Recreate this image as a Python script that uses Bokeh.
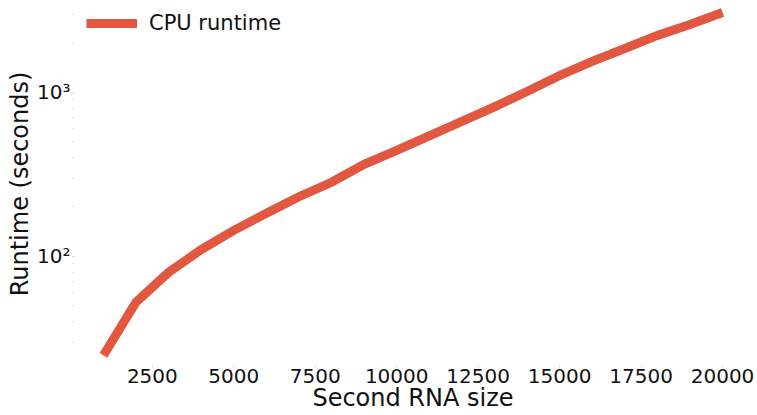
from bokeh.plotting import figure
from bokeh.models import Range1d, FixedTicker, Legend, LegendItem
from bokeh.embed import file_html
from bokeh.resources import INLINE

# Data
rna_size = [1000, 2000, 3000, 4000, 5000, 6000, 7000, 8000, 9000, 10000,
            11000, 12000, 13000, 14000, 15000, 16000, 17000, 18000, 19000, 20000]
cpu_runtime = [24.9, 52.5, 79.8, 110, 144, 183, 231, 283, 364, 443,
               543, 666, 817, 1014, 1269, 1546, 1854, 2228, 2600, 3077]
x_ticks = [2500, 5000, 7500, 10000, 12500, 15000, 17500, 20000]
series_name = "CPU runtime"
x_label = "Second RNA size"
y_label = "Runtime (seconds)"

FONT = "DejaVu Sans"
COLOR = "#e2573f"
X_START, X_END = 50, 20950
LOG_END = 3.561
DECADES_PER_PX = (3.561 - 1.285) / 373
BOTTOM = 48
FRAME_H = 415 - BOTTOM
LOG_START = LOG_END - FRAME_H * DECADES_PER_PX

p = figure(width=757, height=415, output_backend="svg", toolbar_location=None,
           y_axis_type="log",
           x_range=Range1d(X_START, X_END), y_range=Range1d(10 ** LOG_START, 10 ** LOG_END),
           min_border_left=72, min_border_right=4, min_border_top=0, min_border_bottom=BOTTOM)

p.outline_line_color = None
p.xgrid.visible = False
p.ygrid.visible = False
p.background_fill_color = "white"
p.border_fill_color = "white"

r = p.line(rna_size, cpu_runtime, line_color=COLOR, line_width=9, line_cap="butt", line_join="miter")

# x axis
xa = p.xaxis[0]
xa.ticker = FixedTicker(ticks=x_ticks, minor_ticks=[])
xa.axis_line_color = None
xa.major_tick_line_color = "#dddddd"
xa.major_tick_in = 3
xa.major_tick_out = 0
xa.major_label_text_font = FONT
xa.major_label_text_font_size = "20px"
xa.major_label_text_color = "#111111"
xa.major_label_standoff = 1
xa.axis_label = x_label
xa.axis_label_text_font = FONT
xa.axis_label_text_font_size = "24px"
xa.axis_label_text_font_style = "normal"
xa.axis_label_text_color = "#111111"
xa.axis_label_standoff = -2

# y axis
ya = p.yaxis[0]
ya.axis_line_color = None
ya.major_tick_line_color = "#dddddd"
ya.major_tick_in = 2
ya.major_tick_out = 0
ya.minor_tick_line_color = "#dddddd"
ya.minor_tick_in = 2
ya.minor_tick_out = 0
ya.major_label_overrides = {100: "10²", 1000: "10³"}
ya.major_label_text_font = FONT
ya.major_label_text_font_size = "20px"
ya.major_label_text_color = "#111111"
ya.major_label_standoff = 2
ya.axis_label = y_label
ya.axis_label_text_font = FONT
ya.axis_label_text_font_size = "24px"
ya.axis_label_text_font_style = "normal"
ya.axis_label_text_color = "#111111"
ya.axis_label_standoff = 0

legend = Legend(items=[LegendItem(label=series_name, renderers=[r])],
                location=(14, FRAME_H - 35), orientation="vertical")
legend.border_line_color = None
legend.background_fill_alpha = 0
legend.margin = 0
legend.padding = 0
legend.glyph_width = 51
legend.glyph_height = 24
legend.label_height = 24
legend.label_standoff = 12
legend.label_text_font = FONT
legend.label_text_font_size = "21px"
legend.label_text_color = "#111111"
p.add_layout(legend)

open("out.html", "w").write(file_html(p, INLINE))
